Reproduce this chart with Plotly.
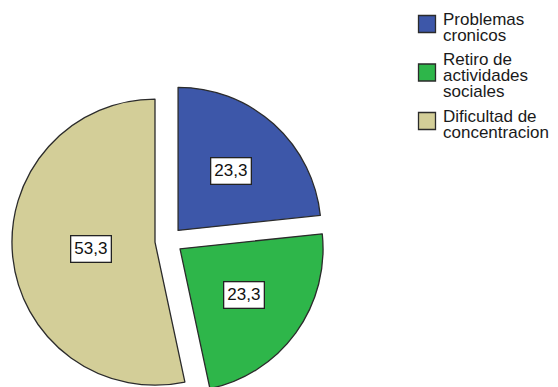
import math
import plotly.graph_objects as go

# Data
categories = ["Problemas<br>cronicos", "Retiro de<br>actividades<br>sociales", "Dificultad de<br>concentracion"]
percentages = [23.3, 23.3, 53.3]
colors = ["#3D57A9", "#2EB64A", "#D3CE98"]

W, H = 558, 400
PULL = 0.097
FONT = "Arial, Liberation Sans, sans-serif"

# Pie domain in paper coordinates
dom_x = [0.0213, 0.5837]
dom_y = [0.006, 0.7905]

fig = go.Figure(go.Pie(
    labels=[c.replace("<br>", " ") for c in categories],
    values=percentages,
    sort=False,
    direction="clockwise",
    rotation=0,
    pull=[PULL] * len(percentages),
    marker=dict(colors=colors, line=dict(color="#2b2b2b", width=1.3)),
    textinfo="none",
    hoverinfo="label+percent",
    showlegend=False,
    domain=dict(x=dom_x, y=dom_y),
))

# Pie geometry in pixels (same rule plotly uses for the radius)
cx = (dom_x[0] + dom_x[1]) / 2 * W
cy = (1 - (dom_y[0] + dom_y[1]) / 2) * H
half = min((dom_x[1] - dom_x[0]) * W, (dom_y[1] - dom_y[0]) * H) / 2
r = half / (1 + PULL)

annotations = []
shapes = []
total = sum(percentages)
start = 0.0
for v in percentages:
    span = v / total * 2 * math.pi
    mid = start + span / 2
    alpha = span / 2
    # boxed value label, placed between half radius and the wedge centroid
    k = (0.5 + (2 / 3) * math.sin(alpha) / alpha) / 2
    dist = PULL * r + k * r
    px = cx + dist * math.sin(mid)
    py = cy - dist * math.cos(mid)
    annotations.append(dict(
        x=px / W, y=1 - py / H, xref="paper", yref="paper",
        text=f"{v:.1f}".replace(".", ","), showarrow=False,
        font=dict(family=FONT, size=17, color="#111"),
        bgcolor="white", bordercolor="#222", borderwidth=1.3, borderpad=3,
        xanchor="center", yanchor="middle",
    ))
    start += span

# Legend drawn as squares and text lines
LINE = 16
GAP = 24.5
baseline = 25
fs = 17
for cat, col in zip(categories, colors):
    lines = cat.split("<br>")
    first = baseline
    for ln in lines:
        center = baseline - 0.3465 * fs
        annotations.append(dict(
            x=441 / W, y=1 - center / H, xref="paper", yref="paper",
            text=ln, showarrow=False, xanchor="left", yanchor="middle",
            font=dict(family=FONT, size=fs, color="#1a1a1a"),
        ))
        last = baseline
        baseline += LINE
    baseline = last + GAP
    sc = (first + last) / 2 - 9
    shapes.append(dict(
        type="rect", xref="paper", yref="paper",
        x0=418.5 / W, x1=435.5 / W, y0=1 - (sc + 8.5) / H, y1=1 - (sc - 8.5) / H,
        fillcolor=col, line=dict(color="#2b2b2b", width=1.3),
    ))

fig.update_layout(
    width=W, height=H,
    margin=dict(l=0, r=0, t=0, b=0),
    paper_bgcolor="white", plot_bgcolor="white",
    annotations=annotations, shapes=shapes,
)

fig.write_html(
    "out.html",
    post_script="document.body.style.margin='0';document.body.style.overflow='hidden';",
)
